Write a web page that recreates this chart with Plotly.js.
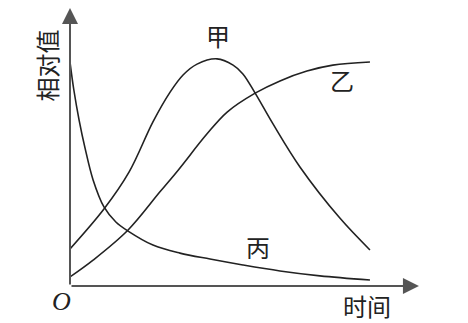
<!DOCTYPE html>
<html>
<head>
<meta charset="utf-8">
<script src="https://cdn.plot.ly/plotly-3.0.1.min.js"></script>
<style>
  html, body { margin: 0; padding: 0; background: #fff; }
  #chart { width: 468px; height: 323px; }
</style>
</head>
<body>
<div id="chart"></div>
<script>
// Curve 甲: rises to a peak, then falls
const jiaX = [0, 0.97, 1.69, 2.37, 2.86, 3.23, 3.63, 4.20, 4.66, 4.94, 5.29, 5.80, 6.57, 7.71, 8.57];
const jiaY = [1.06, 2.20, 3.26, 4.69, 5.54, 6.03, 6.34, 6.49, 6.31, 6.06, 5.51, 4.63, 3.40, 1.94, 1.03];

// Curve 乙: rises and levels off
const yiX = [0, 0.66, 1.66, 2.57, 3.09, 3.91, 4.49, 5.29, 6.00, 6.77, 7.51, 8.57];
const yiY = [0.26, 0.74, 1.60, 2.69, 3.31, 4.34, 4.97, 5.51, 5.86, 6.14, 6.31, 6.40];

// Curve 丙: falls steeply, then decays slowly
const bingX = [0, 0.11, 0.26, 0.43, 0.66, 0.97, 1.31, 1.66, 2.37, 3.14, 4.00, 4.94, 6.00, 7.14, 8.57];
const bingY = [6.40, 5.60, 4.74, 3.94, 3.03, 2.26, 1.83, 1.57, 1.17, 0.94, 0.77, 0.60, 0.43, 0.29, 0.17];

// Curve labels and axis labels
const curveNames = ['甲', '乙', '丙'];
const xTitle = '时间';
const yTitle = '相对值';
const originLabel = 'O';

const cjk = '"Noto Sans CJK SC", "Noto Sans", sans-serif';
const ink = '#222';
const axisInk = '#555';

const curve = (x, y, name) => ({
  x, y, name,
  type: 'scatter',
  mode: 'lines',
  line: { color: ink, width: 1.6, shape: 'spline', smoothing: 1 },
  hoverinfo: 'skip'
});

const traces = [
  curve(jiaX, jiaY, curveNames[0]),
  curve(yiX, yiY, curveNames[1]),
  curve(bingX, bingY, curveNames[2])
];

// Text placed in data coordinates (inside the axes)
const label = (text, x, y, extra) => Object.assign({
  text, x, y, xref: 'x', yref: 'y', showarrow: false,
  font: { family: cjk, size: 24, color: ink },
  xanchor: 'center', yanchor: 'middle'
}, extra || {});

// Text placed in paper coordinates (outside the axes)
const paperLabel = (text, x, y, extra) => label(text, x, y,
  Object.assign({ xref: 'paper', yref: 'paper' }, extra || {}));

const arrow = (x, y, ax, ay) => ({
  x, y, ax, ay, xref: 'x', yref: 'y', axref: 'x', ayref: 'y',
  text: '', showarrow: true, arrowhead: 2, arrowsize: 1.6,
  arrowwidth: 2, arrowcolor: axisInk, standoff: 0, startstandoff: 0
});

const layout = {
  width: 468, height: 323,
  margin: { l: 70, r: 48, t: 6, b: 37 },
  paper_bgcolor: '#fff', plot_bgcolor: '#fff',
  showlegend: false,
  xaxis: { range: [0, 10], visible: false, fixedrange: true },
  yaxis: { range: [0, 8], visible: false, fixedrange: true },
  annotations: [
    arrow(9.97, 0, 0, 0),
    arrow(0, 7.94, 0, 0),
    label(curveNames[0], 4.23, 7.17),
    label(curveNames[1], 7.77, 5.91),
    label(curveNames[2], 5.37, 1.14),
    paperLabel(xTitle, 0.849, -0.068),
    paperLabel(yTitle, -0.067, 0.786, { textangle: -90 }),
    paperLabel('<i>' + originLabel + '</i>', -0.023, -0.054,
      { font: { family: '"Liberation Serif", serif', size: 26, color: ink } })
  ]
};

Plotly.newPlot('chart', traces, layout, { staticPlot: true, displayModeBar: false });
</script>
</body>
</html>
